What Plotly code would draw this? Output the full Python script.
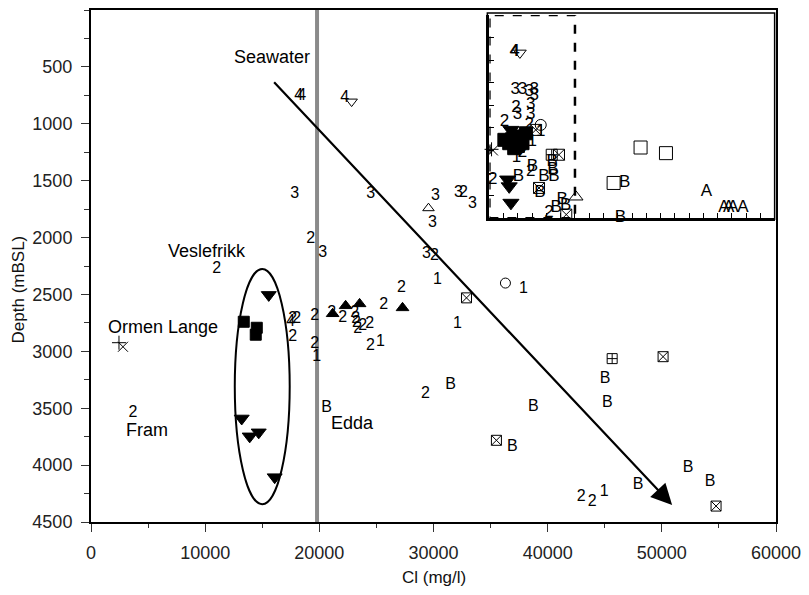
import plotly.graph_objects as go

FONT = "Liberation Sans"

# ---------------- main plot data (Cl mg/l, depth mBSL) ----------------
lab_x = [18200, 18450, 22215, 17840, 24490, 19240, 20290, 11020, 19590, 17667, 18017, 17492,
         17667, 19590, 19766, 3673, 20640, 29386, 30086, 30350, 37870, 32100, 27200, 25630,
         21078, 22040, 23090, 23177, 23260, 23352, 23789, 24401, 24488, 25363, 29300, 31490,
         36910, 38750, 45040, 45220, 52300, 54230, 47930, 42940, 43900, 44960, 30170, 29910,
         32190, 32620, 33410]
lab_y = [760, 760, 770, 1620, 1620, 2014, 2136, 2276, 2688, 2714, 2714, 2740,
         2872, 2933, 3047, 3546, 3502, 2145, 2162, 2373, 2451, 2758, 2443, 2592,
         2662, 2705, 2662, 2714, 2750, 2802, 2776, 2758, 2950, 2915, 3371, 3292,
         3843, 3493, 3240, 3450, 4027, 4150, 4176, 4281, 4325, 4237, 1637, 1874,
         1611, 1611, 1707]
lab_t = ["4", "4", "4", "3", "3", "2", "3", "2", "2", "2", "2", "4",
         "2", "2", "1", "2", "B", "3", "2", "1", "1", "1", "2", "2",
         "2", "2", "2", "2", "2", "2", "2", "2", "2", "1", "2", "B",
         "B", "B", "B", "B", "B", "B", "B", "2", "2", "1", "3", "3",
         "3", "2", "3"]

sq_x = [13380, 14520, 14430]
sq_y = [2740, 2793, 2854]
tdn_x = [15570, 13200, 13900, 14690, 16090]
tdn_y = [2504, 3590, 3747, 3712, 4106]
tup_x = [21165, 22302, 23526, 27287]
tup_y = [2670, 2600, 2583, 2618]
tdn_open_x = [22830]
tdn_open_y = [805]
tup_open_x = [29560]
tup_open_y = [1742]
circ_open_x = [36300]
circ_open_y = [2400]
sqx_x = [32890, 35510, 50110, 54750]
sqx_y = [2530, 3782, 3047, 4360]
sqp_x = [45650]
sqp_y = [3064]
plus_x = [2450]
plus_y = [2924]
cross_x = [2800]
cross_y = [2960]

seawater_cl = 19800
field_names = ["Veslefrikk", "Ormen Lange", "Fram", "Edda", "Seawater"]
field_x = [10145, 6297, 4898, 22914, 15830]
field_y = [2119, 2784, 3695, 3633, 411]

# ---------------- inset data (arbitrary inset units) ----------------
in_lab_x = [1.74, 1.80, 1.81, 2.32, 2.79, 3.14, 3.14, 1.86, 1.97, 2.9, 2.9, 2.79, 1.05, 3.6, 3.0,
            1.97, 2.32, 1.9, 4.41, 4.46, 4.53, 3.83, 3.02, 2.9, 0.23, 2.04, 3.55, 4.18, 4.69,
            5.11, 5.34, 9.48, 9.18, 15.21, 16.45, 16.77, 17.07, 17.77]
in_lab_y = [7.37, 7.37, 5.68, 5.68, 5.6, 5.7, 5.41, 4.87, 4.57, 5.02, 4.57, 4.13, 4.28, 3.84, 3.4,
            2.88, 2.88, 2.66, 2.51, 2.15, 1.85, 1.85, 2.29, 2.07, 1.71, 1.85, 1.12, 0.23, 0.45,
            0.82, 0.53, 1.56, 0.0, 1.19, 0.45, 0.45, 0.45, 0.45]
in_lab_t = ["4", "4", "3", "3", "3", "3", "3", "2", "3", "3", "3", "2", "2", "1", "1",
            "4", "2", "1", "B", "B", "B", "B", "B", "2", "2", "B", "B", "2", "B",
            "B", "B", "B", "B", "A", "A", "A", "A", "A"]

in_tdn_open_x = [2.14]
in_tdn_open_y = [7.32]
in_tdn_x = [1.51, 1.28, 1.39, 1.51]
in_tdn_y = [3.91, 1.71, 1.41, 0.68]
in_sq_x = [1.05, 1.39, 1.86, 2.21, 2.56, 1.74, 2.32, 1.6, 2.0]
in_sq_y = [3.47, 3.32, 3.4, 3.62, 3.76, 3.1, 3.32, 3.5, 3.2]
in_sqx_x = [3.25, 4.88, 3.48, 5.39]
in_sqx_y = [3.91, 2.81, 1.34, 0.16]
in_circ_x = [3.6]
in_circ_y = [4.13]
in_sqp_x = [4.37]
in_sqp_y = [2.81]
in_plus_x = [0.15]
in_plus_y = [3.05]
in_cross_x = [0.25]
in_cross_y = [3.0]
in_tup_open_x = [6.08]
in_tup_open_y = [0.94]
in_sqo_x = [10.6, 12.38, 8.71]
in_sqo_y = [3.13, 2.88, 1.56]

x_ticks = [0, 10000, 20000, 30000, 40000, 50000, 60000]
y_ticks = [500, 1000, 1500, 2000, 2500, 3000, 3500, 4000, 4500]

fig = go.Figure()


def mk(x, y, symbol, size, xa="x", ya="y", lw=1):
    fig.add_trace(go.Scatter(x=x, y=y, mode="markers", xaxis=xa, yaxis=ya,
                             marker=dict(symbol=symbol, size=size, color="#000000",
                                         line=dict(color="#000000", width=lw)),
                             cliponaxis=False, showlegend=False, hoverinfo="skip"))


# main
fig.add_trace(go.Scatter(x=lab_x, y=lab_y, text=lab_t, mode="text",
                         textfont=dict(family=FONT, size=16, color="#000000"),
                         cliponaxis=False, showlegend=False, hoverinfo="skip"))
mk(sq_x, sq_y, "square", 11)
mk(tdn_x, tdn_y, "triangle-down", 13)
mk(tup_x, tup_y, "triangle-up", 11)
mk(tdn_open_x, tdn_open_y, "triangle-down-open", 10)
mk(tup_open_x, tup_open_y, "triangle-up-open", 10)
mk(circ_open_x, circ_open_y, "circle-open", 10)
mk(sqx_x, sqx_y, "square-x-open", 10)
mk(sqp_x, sqp_y, "square-cross-open", 10)
mk(plus_x, plus_y, "cross-thin-open", 10)
mk(cross_x, cross_y, "x-thin-open", 10)

# inset
fig.add_trace(go.Scatter(x=in_lab_x, y=in_lab_y, text=in_lab_t, mode="text",
                         xaxis="x2", yaxis="y2",
                         textfont=dict(family=FONT, size=17, color="#000000"),
                         cliponaxis=False, showlegend=False, hoverinfo="skip"))
mk(in_tdn_open_x, in_tdn_open_y, "triangle-down-open", 11, "x2", "y2")
mk(in_tdn_x, in_tdn_y, "triangle-down", 14, "x2", "y2")
mk(in_sq_x, in_sq_y, "square", 13, "x2", "y2")
mk(in_sqx_x, in_sqx_y, "square-x-open", 11, "x2", "y2")
mk(in_circ_x, in_circ_y, "circle-open", 11, "x2", "y2")
mk(in_sqp_x, in_sqp_y, "square-cross-open", 11, "x2", "y2")
mk(in_plus_x, in_plus_y, "cross-thin-open", 10, "x2", "y2")
mk(in_cross_x, in_cross_y, "x-thin-open", 10, "x2", "y2")
mk(in_tup_open_x, in_tup_open_y, "triangle-up-open", 12, "x2", "y2")
mk(in_sqo_x, in_sqo_y, "square-open", 13, "x2", "y2")

ix0, ix1 = 0.5816, 0.998
iy0, iy1 = 0.5934, 0.9903

shapes = [
    dict(type="line", xref="x", yref="y", x0=seawater_cl, x1=seawater_cl, y0=0, y1=4500,
         line=dict(color="#8a8a8a", width=4), layer="below"),
    dict(type="circle", xref="x", yref="y", x0=12594, x1=17405, y0=2276, y1=4343,
         line=dict(color="black", width=2)),
    dict(type="rect", xref="paper", yref="paper", x0=ix0 - 0.003, x1=ix1, y0=iy0 - 0.002, y1=iy1 + 0.004,
         line=dict(color="black", width=1.5)),
    dict(type="rect", xref="x2", yref="y2", x0=0, x1=6, y0=0, y1=9,
         line=dict(color="black", width=2.5, dash="dash")),
]

annotations = []
for name, fx, fy in zip(field_names, field_x, field_y):
    annotations.append(dict(x=fx, y=fy, xref="x", yref="y", text=name, showarrow=False,
                            font=dict(family=FONT, size=18, color="#000000")))
annotations.append(dict(x=50900, y=4351, ax=15918, ay=622, xref="x", yref="y",
                        axref="x", ayref="y", text="", showarrow=True,
                        arrowhead=2, arrowsize=1.9, arrowwidth=2.2, arrowcolor="black",
                        standoff=0, startstandoff=0))
annotations.append(dict(x=0.5, y=-0.108, xref="paper", yref="paper", text="Cl (mg/l)",
                        showarrow=False, yanchor="middle",
                        font=dict(family=FONT, size=17, color="#111")))
annotations.append(dict(x=-0.106, y=0.455, xref="paper", yref="paper", text="Depth (mBSL)",
                        showarrow=False, textangle=-90, xanchor="center",
                        font=dict(family=FONT, size=17, color="#111")))

fig.update_layout(
    width=809, height=595,
    margin=dict(l=91, r=32, t=8, b=73),
    paper_bgcolor="white", plot_bgcolor="white",
    shapes=shapes, annotations=annotations,
    xaxis=dict(domain=[0, 1], range=[0, 60000], tickvals=x_ticks, tickformat="d",
               ticks="outside", ticklen=8, tickwidth=1, tickcolor="#333",
               minor=dict(dtick=5000, tick0=0, ticks="outside", ticklen=4, tickcolor="#333"),
               showline=True, linecolor="black", linewidth=2, mirror=True,
               showgrid=False, zeroline=False, ticklabelstandoff=5,
               tickfont=dict(family=FONT, size=18, color="#222")),
    yaxis=dict(domain=[0, 1], range=[4500, 0], tickvals=y_ticks, tickformat="d",
               ticks="outside", ticklen=8, tickwidth=1, tickcolor="#333",
               minor=dict(dtick=250, tick0=0, ticks="outside", ticklen=5, tickcolor="#333"),
               showline=True, linecolor="black", linewidth=2, mirror=True,
               showgrid=False, zeroline=False, ticklabelstandoff=5,
               tickfont=dict(family=FONT, size=18, color="#222")),
    xaxis2=dict(domain=[ix0, ix1], anchor="y2", range=[0, 20], dtick=1, tick0=0,
                ticks="inside", ticklen=5, tickcolor="black", showticklabels=False,
                showline=True, linecolor="black", linewidth=2.5, showgrid=False, zeroline=False),
    yaxis2=dict(domain=[iy0, iy1], anchor="x2", range=[0, 9], dtick=1, tick0=0,
                ticks="inside", ticklen=5, tickcolor="black", showticklabels=False,
                showline=True, linecolor="black", linewidth=2.5, showgrid=False, zeroline=False),
)

fig.write_html("out.html")
